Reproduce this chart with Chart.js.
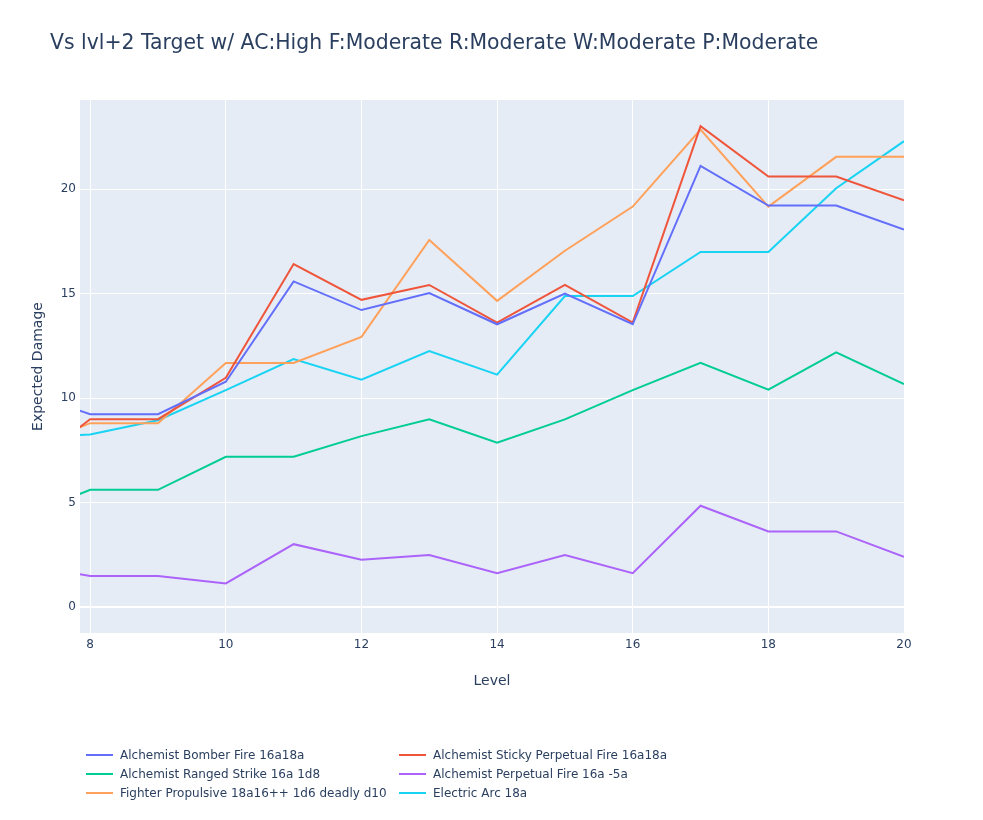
<!DOCTYPE html>
<html lang="en">
<head>
  <meta charset="UTF-8" />
  <title>Vs lvl+2 Target</title>
  <script src="https://cdn.jsdelivr.net/npm/chart.js"></script>
  <style>
    body {
      margin: 0;
      padding: 0;
      background: #fff;
      font-family: "DejaVu Sans", Verdana, sans-serif;
      color: #2a3f5f;
    }
    #wrap {
      position: relative;
      width: 983px;
      height: 820px;
    }
    #chart {
      position: absolute;
      left: 0;
      top: 0;
    }
    #title {
      position: absolute;
      left: 50px;
      top: 30px;
      font-size: 20.4px;
      white-space: nowrap;
    }
    .legend-item {
      position: absolute;
      font-size: 12px;
      line-height: 16px;
      white-space: nowrap;
    }
    .legend-item .swatch {
      display: inline-block;
      width: 27px;
      height: 2px;
      vertical-align: middle;
      margin-right: 7px;
      position: relative;
      top: -1px;
    }
  </style>
</head>
<body>
  <div id="wrap">
    <canvas id="chart" width="983" height="820"></canvas>
    <div id="title">Vs lvl+2 Target w/ AC:High F:Moderate R:Moderate W:Moderate P:Moderate</div>
    <div id="legend"></div>
  </div>

  <script>
    // Niveles (el 7 queda justo fuera del rango visible)
    const levels = [7, 8, 9, 10, 11, 12, 13, 14, 15, 16, 17, 18, 19, 20];

    const bomberFire = [10.3, 9.23, 9.23, 10.78, 15.58, 14.21, 15.02, 13.53, 15.0, 13.53, 21.11, 19.21, 19.21, 18.06];
    const stickyFire = [6.5, 8.99, 8.99, 10.97, 16.41, 14.70, 15.41, 13.61, 15.42, 13.61, 23.01, 20.6, 20.6, 19.46];
    const rangedStrike = [4.3, 5.61, 5.61, 7.19, 7.19, 8.18, 8.98, 7.86, 8.98, 10.38, 11.69, 10.40, 12.19, 10.67];
    const perpetualFire = [2.0, 1.49, 1.49, 1.13, 3.01, 2.26, 2.49, 1.62, 2.49, 1.62, 4.85, 3.62, 3.62, 2.41];
    const fighterPropulsive = [7.5, 8.80, 8.80, 11.68, 11.68, 12.93, 17.56, 14.65, 17.05, 19.16, 22.85, 19.16, 21.54, 21.54];
    const electricArc = [8.1, 8.26, 8.94, 10.38, 11.87, 10.88, 12.25, 11.12, 14.88, 14.88, 16.99, 16.99, 20.04, 22.29];

    const seriesNames = [
      'Alchemist Bomber Fire 16a18a',
      'Alchemist Sticky Perpetual Fire 16a18a',
      'Alchemist Ranged Strike 16a 1d8',
      'Alchemist Perpetual Fire 16a -5a',
      'Fighter Propulsive 18a16++ 1d6 deadly d10',
      'Electric Arc 18a'
    ];
    const seriesValues = [bomberFire, stickyFire, rangedStrike, perpetualFire, fighterPropulsive, electricArc];
    const seriesColors = ['#636efa', '#EF553B', '#00cc96', '#ab63fa', '#FFA15A', '#19d3f3'];

    const xTicks = [8, 10, 12, 14, 16, 18, 20];
    const yTicks = [0, 5, 10, 15, 20];

    // Fondo del área de trazado (estilo plotly)
    const plotBg = {
      id: 'plotBg',
      beforeDraw(chart) {
        const { ctx, chartArea: a } = chart;
        ctx.save();
        ctx.fillStyle = '#E5ECF6';
        ctx.fillRect(a.left, a.top, a.right - a.left, a.bottom - a.top);
        ctx.restore();
      }
    };

    const fontFamily = '"DejaVu Sans", Verdana, sans-serif';

    const ctx = document.getElementById('chart').getContext('2d');
    new Chart(ctx, {
      type: 'line',
      data: {
        datasets: seriesNames.map((name, i) => ({
          label: name,
          data: levels.map((lv, j) => ({ x: lv, y: seriesValues[i][j] })),
          borderColor: seriesColors[i],
          backgroundColor: seriesColors[i],
          borderWidth: 2,
          pointRadius: 0,
          tension: 0,
          fill: false
        }))
      },
      options: {
        responsive: false,
        animation: false,
        layout: {
          padding: { left: 30, right: 79, top: 100, bottom: 127 }
        },
        plugins: {
          legend: { display: false },
          title: { display: false },
          tooltip: { enabled: false }
        },
        scales: {
          x: {
            type: 'linear',
            min: 7.85,
            max: 20,
            afterFit(scale) { scale.height = 60; },
            afterBuildTicks(scale) { scale.ticks = xTicks.map(v => ({ value: v })); },
            border: { display: false },
            grid: { color: '#ffffff', lineWidth: 1, drawTicks: false },
            ticks: {
              padding: 5,
              color: '#2a3f5f',
              font: { family: fontFamily, size: 12 }
            },
            title: {
              display: true,
              text: 'Level',
              color: '#2a3f5f',
              font: { family: fontFamily, size: 14 },
              padding: { top: 0, bottom: 3 }
            }
          },
          y: {
            min: -1.24,
            max: 24.26,
            afterFit(scale) { scale.width = 50; },
            afterBuildTicks(scale) { scale.ticks = yTicks.map(v => ({ value: v })); },
            border: { display: false },
            grid: {
              color: '#ffffff',
              lineWidth: c => (c.tick && c.tick.value === 0 ? 2 : 1),
              drawTicks: false
            },
            ticks: {
              padding: 4,
              color: '#2a3f5f',
              font: { family: fontFamily, size: 12 }
            },
            title: {
              display: true,
              text: 'Expected Damage',
              color: '#2a3f5f',
              font: { family: fontFamily, size: 14 },
              padding: { top: 0, bottom: 0 }
            }
          }
        }
      },
      plugins: [plotBg]
    });

    // Leyenda horizontal en dos columnas (como en plotly)
    const legendCols = [86, 399];
    const legendRows = [747, 766, 785];
    const legend = document.getElementById('legend');
    seriesNames.forEach((name, i) => {
      const item = document.createElement('div');
      item.className = 'legend-item';
      item.style.left = legendCols[i % 2] + 'px';
      item.style.top = legendRows[Math.floor(i / 2)] + 'px';
      item.innerHTML = '<span class="swatch" style="background:' + seriesColors[i] + '"></span>' + name;
      legend.appendChild(item);
    });
  </script>
</body>
</html>
